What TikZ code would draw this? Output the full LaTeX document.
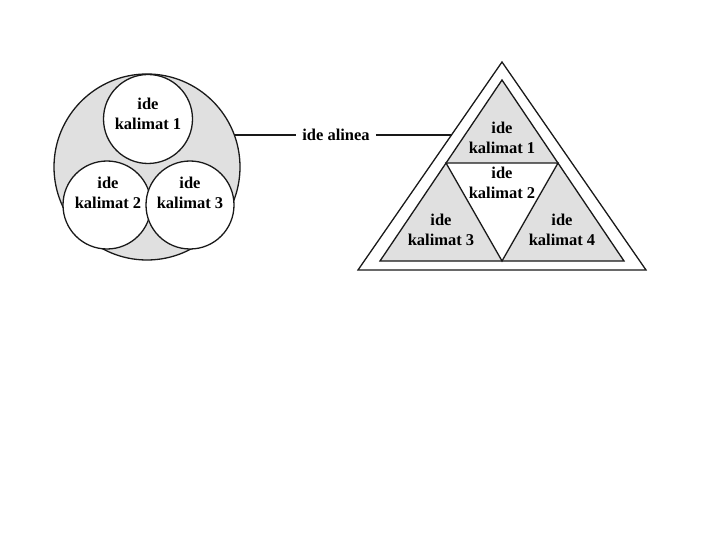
\documentclass[tikz,border=0pt]{standalone}
\usepackage{fontspec}
\setmainfont{Liberation Serif}
\begin{document}
\begin{tikzpicture}[x=1pt,y=-1pt,
  shade/.style={fill=black!12},
  ln/.style={line width=1.3pt,black!90},
  circ/.style={circle,draw,ln,inner sep=0pt},
  lbl/.style={align=center,inner sep=1pt,font=\fontsize{16.5}{19.5}\selectfont\bfseries},
]
\useasboundingbox (0,0) rectangle (720,540);
% circle diagram
\node[circ,shade,minimum size=186pt] (big) at (147,167) {};
\node[circ,fill=white,minimum size=89pt] (c1) at (148,119) {};
\node[circ,fill=white,minimum size=88pt] (c2) at (107,205) {};
\node[circ,fill=white,minimum size=88pt] (c3) at (190,205) {};
\node[lbl] (t1) at (148,114) {ide\\kalimat 1};
\node[lbl] (t2) at (108,193) {ide\\kalimat 2};
\node[lbl] (t3) at (190,193) {ide\\kalimat 3};
% triangle diagram
\coordinate (A) at (502,62);
\coordinate (B) at (358,270);
\coordinate (C) at (646,270);
\coordinate (a) at (502,80);
\coordinate (b) at (380,261);
\coordinate (c) at (624,261);
\coordinate (m1) at (446,163);
\coordinate (m2) at (558,163);
\coordinate (m3) at (502,261);
\draw[ln,fill=white] (A) -- (B) -- (C) -- cycle;
\draw[ln,shade] (a) -- (b) -- (c) -- cycle;
\draw[ln,fill=white] (m1) -- (m2) -- (m3) -- cycle;
\node[lbl] (k1) at (502,138) {ide\\kalimat 1};
\node[lbl] (k2) at (502,183) {ide\\kalimat 2};
\node[lbl] (k3) at (441,230) {ide\\kalimat 3};
\node[lbl] (k4) at (562,230) {ide\\kalimat 4};
% connector
\node[lbl,inner sep=6pt] (al) at (336,135) {ide alinea};
\coordinate (te) at (451.5,135);
\draw[ln] (big.20 |- al.west) -- (al.west);
\draw[ln] (al.east) -- (te);
\end{tikzpicture}
\end{document}
